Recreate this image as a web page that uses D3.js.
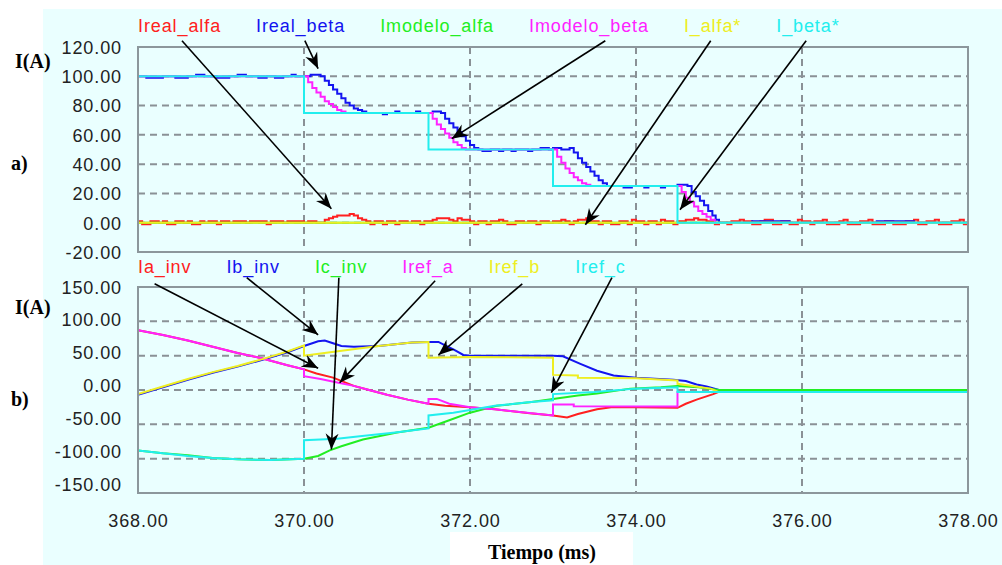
<!DOCTYPE html>
<html>
<head>
<meta charset="utf-8">
<script src="https://cdn.jsdelivr.net/npm/d3@7"></script>
<style>
  body { margin: 0; background: #ffffff; }
  svg { display: block; }
  .tick text { font-family: "Liberation Sans", Arial, sans-serif; font-size: 18px; fill: #222; letter-spacing: 0.9px; }
  .legend { font-family: "Liberation Sans", Arial, sans-serif; font-size: 18px; letter-spacing: 0.9px; }
  .serif { font-family: "Liberation Serif", "Times New Roman", serif; font-weight: bold; fill: #000; }
</style>
</head>
<body>
<svg id="chart" width="1002" height="565"></svg>
<script>
// ---- axes ----
const timeTicks = [368, 370, 372, 374, 376, 378];
const topTicks = [-20, 0, 20, 40, 60, 80, 100, 120];
const bottomTicks = [-150, -100, -50, 0, 50, 100, 150];

// ---- series names and colours ----
const topNames = ["Ireal_alfa", "Ireal_beta", "Imodelo_alfa", "Imodelo_beta", "I_alfa*", "I_beta*"];
const bottomNames = ["Ia_inv", "Ib_inv", "Ic_inv", "Iref_a", "Iref_b", "Iref_c"];
const seriesColors = ["#ff2020", "#1414f0", "#22ee22", "#ff22ff", "#eeee22", "#22eeee"];

// ---- a) alpha/beta currents [t (ms), I (A)] ----
const irealAlfa = [[368,1],[368.05,-1],[368.15,1],[368.25,0],[368.3,1],[368.35,-1],[368.45,1],[368.55,0],[368.6,1],[368.65,-1],
  [368.75,1],[368.8,0],[368.85,1],[368.95,-1],[369.0,1],[369.1,0],[369.15,1],[369.3,0],[369.35,1],[369.55,-1],[369.6,1],
  [369.75,0],[369.8,1],[370.0,0],[370.05,1],[370.15,0],[370.25,2],[370.3,3],[370.35,4],[370.4,5],[370.55,6],[370.6,5],
  [370.65,3],[370.7,2],[370.75,1],[370.8,-1],[370.85,1],[370.95,-1],[371.0,1],[371.1,-1],[371.15,1],[371.25,0],[371.3,1],
  [371.4,-1],[371.45,1],[371.55,2],[371.6,3],[371.75,2],[371.8,1],[371.85,3],[371.9,2],[372.0,1],[372.05,-1],[372.1,1],
  [372.2,-1],[372.25,1],[372.35,2],[372.4,1],[372.45,-1],[372.55,1],[372.65,0],[372.7,1],[372.8,-1],[372.85,1],[372.95,0],
  [373.0,1],[373.1,2],[373.15,1],[373.2,-1],[373.25,1],[373.3,2],[373.4,3],[373.45,1],[373.55,-1],[373.6,1],[373.7,-1],
  [373.8,1],[373.9,-1],[373.95,2],[374.0,1],[374.1,-1],[374.15,1],[374.25,-1],[374.3,2],[374.35,1],[374.45,-1],[374.5,1],
  [374.6,2],[374.7,3],[374.75,2],[374.85,1],[374.95,-1],[375.0,0],[375.1,-1],[375.15,1],[375.25,2],[375.3,1],[375.4,-1],
  [375.5,1],[375.55,2],[375.65,-1],[375.75,1],[375.85,-1],[375.95,2],[376.0,1],[376.1,-1],[376.15,1],[376.25,2],[376.3,-1],
  [376.45,1],[376.5,2],[376.55,-1],[376.7,1],[376.8,2],[376.85,-1],[377.0,1],[377.1,-1],[377.25,1],[377.35,2],[377.4,-1],
  [377.5,1],[377.6,2],[377.65,-1],[377.8,1],[377.9,2],[377.95,-1],[378,0]];

const irealBeta = [[368,100],[368.1,99],[368.3,100],[368.45,99],[368.6,100],[368.7,101],[368.8,100],[368.95,99],[369.1,100],
  [369.2,101],[369.3,100],[369.45,99],[369.55,100],[369.65,99],[369.75,100],[369.85,101],[369.9,100],[370.08,101],[370.2,100],
  [370.25,97],[370.3,94],[370.35,91],[370.4,88],[370.45,85],[370.5,82],[370.55,80],[370.6,78],[370.65,77],[370.7,76],[370.75,75],
  [370.95,74],[371.0,75],[371.1,76],[371.15,75],[371.35,76],[371.4,75],[371.55,76],[371.65,75],[371.7,71],[371.75,68],
  [371.8,65],[371.85,62],[371.9,59],[371.95,56],[372.0,53],[372.05,51],[372.1,50],[372.15,49],[372.25,50],[372.35,49],
  [372.4,50],[372.5,49],[372.55,50],[372.7,49],[372.75,50],[372.85,51],[372.95,50],[373.0,51],[373.1,50],[373.2,51],
  [373.25,48],[373.3,44],[373.35,41],[373.4,38],[373.45,35],[373.5,32],[373.55,29],[373.6,27],[373.65,25],[373.85,24],
  [373.95,25],[374.1,24],[374.15,25],[374.3,24],[374.35,25],[374.5,26],[374.62,25],[374.67,21],[374.72,18],[374.77,15],
  [374.82,12],[374.87,8],[374.92,5],[374.96,2],[375.0,0],[375.4,1],[375.85,0],[376.9,1],[377.35,0],[378,0]];

const imodeloAlfa = [[368,0],[378,0]];

const imodeloBeta = [[368,100],[370,100],[370.05,96],[370.1,92],[370.15,89],[370.2,86],[370.25,83],[370.3,81],[370.35,79],
  [370.4,77],[370.45,76],[370.5,75],[371.5,75],[371.55,71],[371.6,67],[371.65,64],[371.7,61],[371.75,58],[371.8,55],
  [371.85,53],[371.9,51],[371.95,50],[373.0,50],[373.05,45],[373.1,41],[373.15,37],[373.2,34],[373.25,31],[373.3,29],
  [373.35,27],[373.4,26],[373.45,25],[374.5,25],[374.55,21],[374.6,17],[374.65,14],[374.7,11],[374.75,8],[374.8,6],
  [374.85,4],[374.9,2],[374.95,0],[378,0]];

const iAlfaRef = [[368,0],[378,0]];
const iBetaRef = [[368,100],[370,75],[371.5,50],[373,25],[374.5,0],[378,0]];

// ---- b) phase currents [t (ms), I (A)] ----
const iaInv = [[368,87],[368.3,80],[368.6,72],[368.9,63],[369.2,54],[369.5,46],[369.8,36],[370,30],[370.15,24],[370.35,18],
  [370.6,6],[370.75,1],[371.0,-7],[371.25,-14],[371.5,-20],[371.7,-23],[372.0,-25],[372.3,-28],[372.72,-34],[373.0,-37],
  [373.17,-40],[373.3,-35],[373.53,-28],[373.7,-25],[374.0,-25],[374.5,-26],[374.6,-20],[374.73,-14],[374.93,-6],
  [375.05,0],[378,0]];
const ibInv = [[368,-7],[368.3,4],[368.6,15],[368.9,25],[369.2,34],[369.5,44],[369.8,55],[370,64],[370.1,68],[370.17,71],
  [370.25,72],[370.35,68],[370.45,64],[370.6,63],[370.9,64],[371.3,69],[371.5,70],[371.62,70],[371.7,65],[371.8,59],
  [371.92,51],[372.0,50],[373.0,50],[373.12,49],[373.33,38],[373.53,28],[373.73,21],[374.0,18],[374.45,15],[374.6,13],
  [374.73,8],[374.85,5],[375.0,0],[378,0]];
const icInv = [[368,-88],[368.3,-92],[368.6,-95],[368.9,-99],[369.2,-101],[369.6,-102],[370,-100],[370.17,-96],[370.31,-88],
  [370.45,-82],[370.71,-72],[371.12,-62],[371.5,-55],[371.75,-44],[372.0,-33],[372.32,-23],[372.72,-18],[373.0,-13],
  [373.3,-8],[373.53,-5],[373.93,2],[374.3,4],[374.5,6],[374.75,4],[375.0,0],[378,0]];
const irefA = [[368,87],[368.3,80],[368.6,72],[368.9,63],[369.2,54],[369.5,46],[369.8,36],[370,30],[370,20],[370.2,16],
  [370.4,11],[370.6,6],[370.75,1],[371.0,-7],[371.25,-14],[371.5,-20],[371.5,-13],[371.6,-13],[371.75,-20],[372.0,-25],
  [372.3,-28],[372.6,-32],[373.0,-37],[373.0,-21],[373.25,-21],[373.25,-23.5],[374.5,-24],[374.5,-3],[378,-3]];
const irefB = [[368,-6],[368.3,5],[368.6,16],[368.9,26],[369.2,35],[369.5,45],[369.8,56],[370,65],[370,50],[370.2,53],
  [370.5,58],[370.9,64],[371.3,69],[371.5,70],[371.5,47],[372.0,48],[373.0,47],[373.0,22],[373.3,21],[373.3,18],
  [374.0,17],[374.5,14],[374.5,9],[374.9,2],[375.0,-3],[378,-3]];
const irefC = [[368,-88],[368.3,-92],[368.6,-96],[368.9,-99],[369.2,-101],[369.6,-102],[370,-100],[370,-73],[370.4,-71],
  [370.7,-67],[371.1,-62],[371.5,-56],[371.5,-37],[371.8,-33],[372.0,-29],[372.3,-23],[372.7,-18],[373.0,-15],[373.0,-6],
  [373.5,-3],[374.0,2],[374.5,4],[374.5,-3],[378,-3]];

// ---- annotation arrows: from / to in [t, I] ----
const topArrows = [
  { from: [368.53, 124.3], to: [370.33, 9.6] },
  { from: [370.01, 124.3], to: [370.17, 105.2] },
  { from: [373.63, 124.3], to: [371.78, 57.4] },
  { from: [374.90, 124.3], to: [373.39, -1.4] },
  { from: [376.05, 124.3], to: [374.53, 8.9] }
];
const bottomArrows = [
  { from: [368.20, 154.7], to: [370.17, 31.7] },
  { from: [369.31, 163.5], to: [370.17, 80.3] },
  { from: [370.42, 163.5], to: [370.33, -86.6] },
  { from: [371.58, 159.1], to: [370.43, 10.7] },
  { from: [372.63, 154.7], to: [371.62, 51.1] },
  { from: [373.71, 163.5], to: [372.98, -3.9] }
];

// ---- drawing ----
const W = 1002, H = 565;
const svg = d3.select("#chart");
const gridColor = "#8a9196";
const frameColor = "#8c979c";

svg.append("rect").attr("x", 43).attr("y", 9).attr("width", W - 43).attr("height", H - 9).attr("fill", "#eaffff");

const defs = svg.append("defs");
defs.append("marker")
  .attr("id", "head").attr("markerUnits", "userSpaceOnUse")
  .attr("viewBox", "-16 -7 17 14").attr("refX", 0).attr("refY", 0)
  .attr("markerWidth", 17).attr("markerHeight", 14).attr("orient", "auto")
  .append("path").attr("d", "M0,0 L-16,-6.5 L-11,0 L-16,6.5 Z").attr("fill", "#000");

const x = d3.scaleLinear().domain([368, 378]).range([138, 968]);

const panels = [
  { id: "a", names: topNames, series: [irealAlfa, irealBeta, imodeloAlfa, imodeloBeta, iAlfaRef, iBetaRef],
    domain: [-20, 120], top: 47, bottom: 252, ticks: topTicks, curve: d3.curveStepAfter,
    legendY: 32, arrows: topArrows, unitY: 68, tagY: 170, tag: "a)" },
  { id: "b", names: bottomNames, series: [iaInv, ibInv, icInv, irefA, irefB, irefC],
    domain: [-150, 150], top: 287, bottom: 493, ticks: bottomTicks, curve: d3.curveLinear,
    legendY: 273, arrows: bottomArrows, unitY: 314, tagY: 406, tag: "b)", labelRange: [483.7, 286.7] }
];

panels.forEach(p => {
  const y = d3.scaleLinear().domain(p.domain).range([p.bottom, p.top]);
  const g = svg.append("g");

  defs.append("clipPath").attr("id", "clip-" + p.id)
    .append("rect").attr("x", x.range()[0]).attr("y", p.top)
    .attr("width", x.range()[1] - x.range()[0]).attr("height", p.bottom - p.top);

  // dashed grid
  const innerY = p.ticks.filter(v => v > p.domain[0] && v < p.domain[1]);
  const innerX = timeTicks.filter(v => v > 368 && v < 378);
  g.selectAll(".hgrid").data(innerY).join("line")
    .attr("x1", x.range()[0]).attr("x2", x.range()[1])
    .attr("y1", d => y(d)).attr("y2", d => y(d))
    .attr("stroke", gridColor).attr("stroke-width", 2).attr("stroke-dasharray", "7,5");
  g.selectAll(".vgrid").data(innerX).join("line")
    .attr("x1", d => x(d)).attr("x2", d => x(d))
    .attr("y1", p.top).attr("y2", p.bottom)
    .attr("stroke", gridColor).attr("stroke-width", 2).attr("stroke-dasharray", "7,5");

  // series
  const line = d3.line().x(d => x(d[0])).y(d => y(d[1])).curve(p.curve);
  g.append("g").attr("clip-path", "url(#clip-" + p.id + ")")
    .selectAll("path").data(p.series).join("path")
    .attr("d", line).attr("fill", "none")
    .attr("stroke", (d, i) => seriesColors[i]).attr("stroke-width", 2)
    .attr("stroke-linejoin", "miter");

  // frame
  g.append("rect").attr("x", x.range()[0]).attr("y", p.top)
    .attr("width", x.range()[1] - x.range()[0]).attr("height", p.bottom - p.top)
    .attr("fill", "none").attr("stroke", frameColor).attr("stroke-width", 2);

  // y tick labels
  const labelScale = p.labelRange ? d3.scaleLinear().domain(p.domain).range(p.labelRange) : y;
  const yAxis = g.append("g").attr("transform", `translate(${x.range()[0]},0)`)
    .call(d3.axisLeft(labelScale).tickValues(p.ticks).tickFormat(d => d.toFixed(2)).tickSize(0).tickPadding(16));
  yAxis.select(".domain").remove();
  yAxis.selectAll("text").attr("dy", "0.35em");

  // legend, flowing left to right
  let lx = x.range()[0];
  p.names.forEach((name, i) => {
    const t = g.append("text").attr("class", "legend").attr("x", lx).attr("y", p.legendY)
      .attr("fill", seriesColors[i]).text(name);
    lx += t.node().getComputedTextLength() + 35;
  });

  // side labels
  g.append("text").attr("class", "serif").attr("x", 15).attr("y", p.unitY).attr("font-size", 20).text("I(A)");
  g.append("text").attr("class", "serif").attr("x", 11).attr("y", p.tagY).attr("font-size", 20).text(p.tag);

  // arrows
  g.selectAll(".arrow").data(p.arrows).join("line")
    .attr("x1", d => x(d.from[0])).attr("y1", d => y(d.from[1]))
    .attr("x2", d => x(d.to[0])).attr("y2", d => y(d.to[1]))
    .attr("stroke", "#000").attr("stroke-width", 1.6).attr("marker-end", "url(#head)");

  // time labels under the lower panel
  if (p.id === "b") {
    const xAxis = g.append("g").attr("transform", `translate(0,${p.bottom})`)
      .call(d3.axisBottom(x).tickValues(timeTicks).tickFormat(d => d.toFixed(2)).tickSize(0).tickPadding(21));
    xAxis.select(".domain").remove();
  }
});

// axis title box
svg.append("rect").attr("x", 450).attr("y", 532).attr("width", 183).attr("height", H - 532).attr("fill", "#ffffff");
svg.append("text").attr("class", "serif").attr("x", 542).attr("y", 559).attr("text-anchor", "middle")
  .attr("font-size", 20).text("Tiempo (ms)");
</script>
</body>
</html>
